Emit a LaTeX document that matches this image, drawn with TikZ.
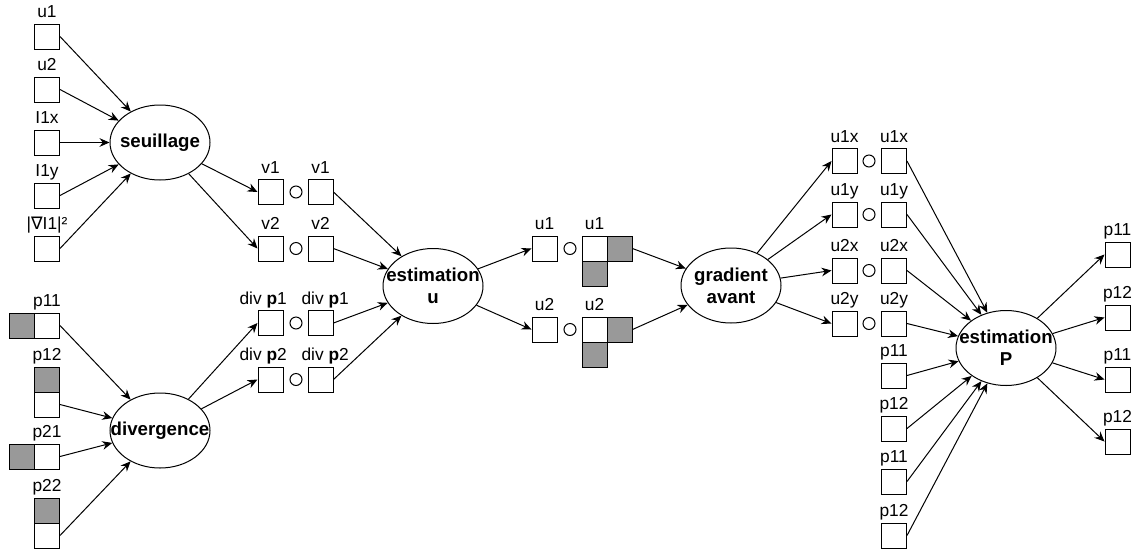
\documentclass[tikz,border=0pt]{standalone}
\usepackage{fontspec}
\setmainfont{Liberation Sans}
\newfontfamily\dejavu{DejaVu Sans}
\usetikzlibrary{arrows.meta,shapes.geometric}
\definecolor{shade}{RGB}{153,153,153}
\tikzset{
  box/.style={draw, line width=0.75pt, minimum width=18.75pt, minimum height=18.75pt, inner sep=0pt, fill=white},
  gbox/.style={box, fill=shade},
  circ/.style={draw, circle, line width=0.75pt, minimum size=9pt, inner sep=0pt},
  proc/.style={draw, ellipse, line width=0.75pt, minimum width=75pt, minimum height=56.25pt, inner sep=0pt},
  ptxt/.style={inner sep=0pt, align=center, font=\fontsize{14}{16.5}\selectfont\bfseries},
  lbl/.style={anchor=base, inner sep=0pt, font=\fontsize{13}{15}\selectfont},
  arr/.style={line width=0.75pt, -{Stealth[length=7.5pt,width=6.5pt,inset=2.5pt]}}
}
\newcommand{\lab}[2]{\node[lbl] at ([yshift=4.5pt]#1.north) {#2};}
\newcommand{\labx}[3]{\node[lbl] at ([xshift=#2,yshift=4.5pt]#1.north) {#3};}
\begin{document}
\begin{tikzpicture}[x=0.75pt,y=-0.75pt]
\useasboundingbox (0,0) rectangle (1136,551);
% top-left inputs
\node[box] (a1) at (47,36.5) {}; \lab{a1}{u1}
\node[box] (a2) at (47,89.5) {}; \lab{a2}{u2}
\node[box] (a3) at (47,142.5) {}; \lab{a3}{I1x}
\node[box] (a4) at (47,195.5) {}; \lab{a4}{I1y}
\node[box] (a5) at (47,248.5) {}; \lab{a5}{|{\dejavu ∇}I1|²}
\node[proc] (seu) at (160,142.5) {}; \node[ptxt] (seut) at (seu) {seuillage};
% bottom-left inputs
\node[gbox] (b1g) at (22,325.5) {}; \node[box] (b1w) at (47,325.5) {}; \lab{b1w}{p11}
\node[gbox] (b2g) at (47,379.5) {}; \node[box] (b2w) at (47,404.5) {}; \lab{b2g}{p12}
\node[gbox] (b3g) at (22,456.5) {}; \node[box] (b3w) at (47,456.5) {}; \lab{b3w}{p21}
\node[gbox] (b4g) at (47,510.5) {}; \node[box] (b4w) at (47,535.5) {}; \lab{b4g}{p22}
\node[proc] (div) at (160,430.5) {}; \node[ptxt] (divt) at (div) {divergence};
% middle column
\node[box] (v1a) at (270.5,192) {}; \node[circ] (v1c) at (296,192) {}; \node[box] (v1b) at (320.5,192) {};
\lab{v1a}{v1} \lab{v1b}{v1}
\node[box] (v2a) at (270.5,248.5) {}; \node[circ] (v2c) at (296,248.5) {}; \node[box] (v2b) at (320.5,248.5) {};
\lab{v2a}{v2} \lab{v2b}{v2}
\node[box] (d1a) at (270.5,323) {}; \node[circ] (d1c) at (296,323) {}; \node[box] (d1b) at (320.5,323) {};
\labx{d1a}{-5.5pt}{div \textbf{p}1} \labx{d1b}{3.5pt}{div \textbf{p}1}
\node[box] (d2a) at (270.5,379.5) {}; \node[circ] (d2c) at (296,379.5) {}; \node[box] (d2b) at (320.5,379.5) {};
\labx{d2a}{-5.5pt}{div \textbf{p}2} \labx{d2b}{3.5pt}{div \textbf{p}2}
\node[proc] (estu) at (433,286) {}; \node[ptxt] (estut) at (estu) {estimation\\u};
% u group
\node[box] (u1a) at (544.5,248.5) {}; \node[circ] (u1c) at (570,248.5) {}; \node[box] (u1b) at (594.5,248.5) {};
\node[gbox] (u1r) at (619.5,248.5) {}; \node[gbox] (u1d) at (594.5,273.5) {};
\lab{u1a}{u1} \lab{u1b}{u1}
\node[box] (u2a) at (544.5,329.5) {}; \node[circ] (u2c) at (570,329.5) {}; \node[box] (u2b) at (594.5,329.5) {};
\node[gbox] (u2r) at (619.5,329.5) {}; \node[gbox] (u2d) at (594.5,354.5) {};
\lab{u2a}{u2} \lab{u2b}{u2}
\node[proc] (grad) at (731,285.5) {}; \node[ptxt] (gradt) at (grad) {gradient\\avant};
% right column
\node[box] (r1a) at (844.5,161) {}; \node[circ] (r1c) at (869,161) {}; \node[box] (r1b) at (894,161) {};
\lab{r1a}{u1x} \lab{r1b}{u1x}
\node[box] (r2a) at (844.5,214.5) {}; \node[circ] (r2c) at (869,214.5) {}; \node[box] (r2b) at (894,214.5) {};
\lab{r2a}{u1y} \lab{r2b}{u1y}
\node[box] (r3a) at (844.5,270.5) {}; \node[circ] (r3c) at (869,270.5) {}; \node[box] (r3b) at (894,270.5) {};
\lab{r3a}{u2x} \lab{r3b}{u2x}
\node[box] (r4a) at (844.5,323.5) {}; \node[circ] (r4c) at (869,323.5) {}; \node[box] (r4b) at (894,323.5) {};
\lab{r4a}{u2y} \lab{r4b}{u2y}
\node[box] (q1) at (894,375.5) {}; \lab{q1}{p11}
\node[box] (q2) at (894,428.5) {}; \lab{q2}{p12}
\node[box] (q3) at (894,481.5) {}; \lab{q3}{p11}
\node[box] (q4) at (894,535.5) {}; \lab{q4}{p12}
\node[proc] (estp) at (1006,348) {}; \node[ptxt] (estpt) at (estp) {estimation\\P};
% outputs
\node[box] (o1) at (1117.5,254.5) {}; \lab{o1}{p11}
\node[box] (o2) at (1117.5,317.5) {}; \lab{o2}{p12}
\node[box] (o3) at (1117.5,379.5) {}; \lab{o3}{p11}
\node[box] (o4) at (1117.5,441.5) {}; \lab{o4}{p12}
% connectors
\foreach \n in {a1,a2,a3,a4,a5} \draw[arr] (\n.east) -- (seu);
\foreach \n in {b1w,b2w,b3w,b4w} \draw[arr] (\n.east) -- (div);
\draw[arr] (seu) -- (v1a.west);
\draw[arr] (seu) -- (v2a.west);
\draw[arr] (div) -- (d1a.west);
\draw[arr] (div) -- (d2a.west);
\foreach \n in {v1b,v2b,d1b,d2b} \draw[arr] (\n.east) -- (estu);
\draw[arr] (estu) -- (u1a.west);
\draw[arr] (estu) -- (u2a.west);
\draw[arr] (u1r.east) -- (grad);
\draw[arr] (u2r.east) -- (grad);
\foreach \n in {r1a,r2a,r3a,r4a} \draw[arr] (grad) -- (\n.west);
\foreach \n in {r1b,r2b,r3b,r4b,q1,q2,q3,q4} \draw[arr] (\n.east) -- (estp);
\foreach \n in {o1,o2,o3,o4} \draw[arr] (estp) -- (\n.west);
\end{tikzpicture}
\end{document}
